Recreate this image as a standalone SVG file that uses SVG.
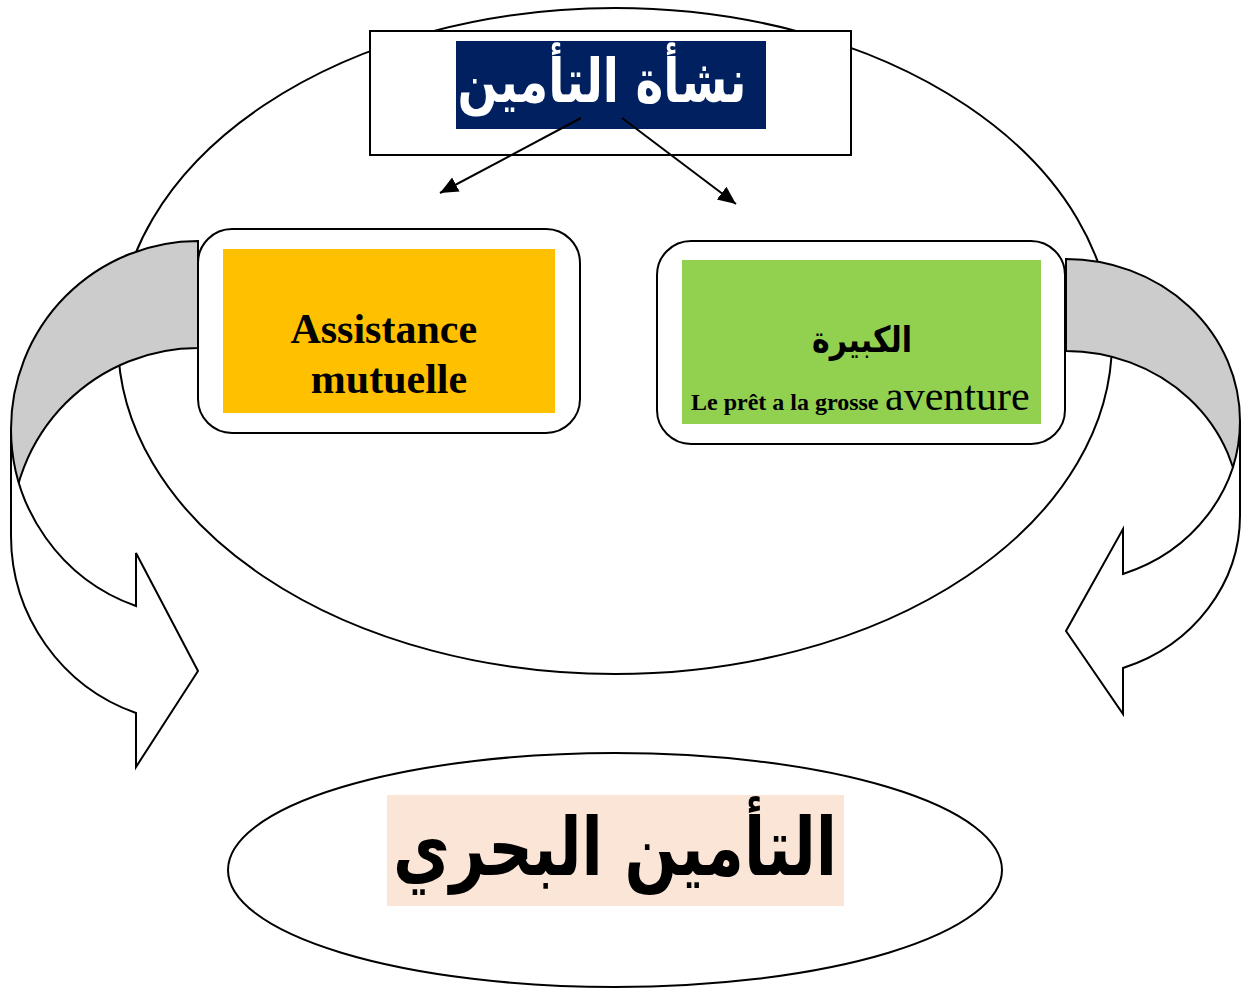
<svg xmlns="http://www.w3.org/2000/svg" width="1250" height="988" viewBox="0 0 1250 988">
  <style>
    .line { fill: none; stroke: #000; stroke-width: 2; }
    .shape { fill: #fff; stroke: #000; stroke-width: 2; stroke-linejoin: miter; }
    .back { fill: #cccccc; stroke: #000; stroke-width: 2; }
    .lat { font-family: "Liberation Serif", "Times New Roman", serif; fill: #000; }
    .ar { font-family: "DejaVu Sans", "Noto Sans", sans-serif; font-weight: bold; }
  </style>
  <defs>
    <marker id="head" markerUnits="userSpaceOnUse" markerWidth="22" markerHeight="18" refX="18" refY="8" orient="auto">
      <path d="M0,0 L18,8 L0,16 Z" fill="#000"/>
    </marker>
  </defs>

  <rect width="1250" height="988" fill="#fff"/>

  <!-- large ellipse framing the origin -->
  <g id="frame-ellipse">
    <ellipse cx="615" cy="341" rx="497" ry="333" class="shape" stroke-width="1.8"/>
  </g>

  <!-- left curved arrow: back band, then front band with head -->
  <g id="curved-arrow-left">
    <path class="back" d="M198,241 A187,188 0 0 0 11,429 L11,536 A187,188 0 0 1 198,348 Z"/>
    <path class="shape" d="M11,429 A187,188 0 0 0 136,606 L136,553 L198,671 L136,767 L136,713 A187,188 0 0 1 11,536 Z"/>
  </g>

  <!-- right curved arrow -->
  <g id="curved-arrow-right">
    <path class="back" d="M1066,259 A174,162 0 0 1 1240,421 L1240,513 A174,162 0 0 0 1066,351 Z"/>
    <path class="shape" d="M1240,421 A174,162 0 0 1 1123,574 L1123,529 L1066,631 L1123,714 L1123,668 A174,162 0 0 0 1240,513 Z"/>
  </g>

  <!-- title -->
  <g id="title">
    <rect x="370" y="31" width="481" height="124" class="shape"/>
    <rect x="456" y="41" width="310" height="88" fill="#002060"/>
    <text x="602" y="102" class="ar" font-size="60" fill="#fff" text-anchor="middle" direction="rtl" textLength="289" lengthAdjust="spacingAndGlyphs">نشأة التأمين</text>
  </g>

  <!-- mutual assistance -->
  <g id="assistance">
    <rect x="198" y="229" width="382" height="204" rx="34" class="shape"/>
    <rect x="223" y="249" width="332" height="164" fill="#FFC000"/>
    <text class="lat" font-weight="bold" font-size="42" text-anchor="middle">
      <tspan x="389" y="343">Assistance</tspan>
      <tspan x="389" y="393">mutuelle</tspan>
    </text>
  </g>

  <!-- bottomry loan -->
  <g id="grosse-aventure">
    <rect x="657" y="241" width="408" height="203" rx="34" class="shape"/>
    <rect x="682" y="260" width="359" height="164" fill="#92D050"/>
    <text x="862" y="352" class="ar" font-size="36" fill="#000" text-anchor="middle" direction="rtl" textLength="100" lengthAdjust="spacingAndGlyphs">الكبيرة</text>
    <text class="lat" y="410">
      <tspan x="691" font-weight="bold" font-size="24">Le prêt a la grosse</tspan>
      <tspan x="885" font-size="42">aventure</tspan>
    </text>
  </g>

  <!-- marine insurance -->
  <g id="marine">
    <ellipse cx="615" cy="870" rx="387" ry="117" class="shape"/>
    <rect x="387" y="795" width="457" height="111" fill="#FBE5D6"/>
    <text x="615" y="875" class="ar" font-size="80" fill="#000" text-anchor="middle" direction="rtl" textLength="444" lengthAdjust="spacingAndGlyphs">التأمين البحري</text>
  </g>

  <!-- connectors from the title -->
  <g id="connectors">
    <line x1="581" y1="118" x2="440" y2="193" class="line" stroke-width="1.6" marker-end="url(#head)"/>
    <line x1="622" y1="118" x2="736" y2="204" class="line" stroke-width="1.6" marker-end="url(#head)"/>
  </g>
</svg>
